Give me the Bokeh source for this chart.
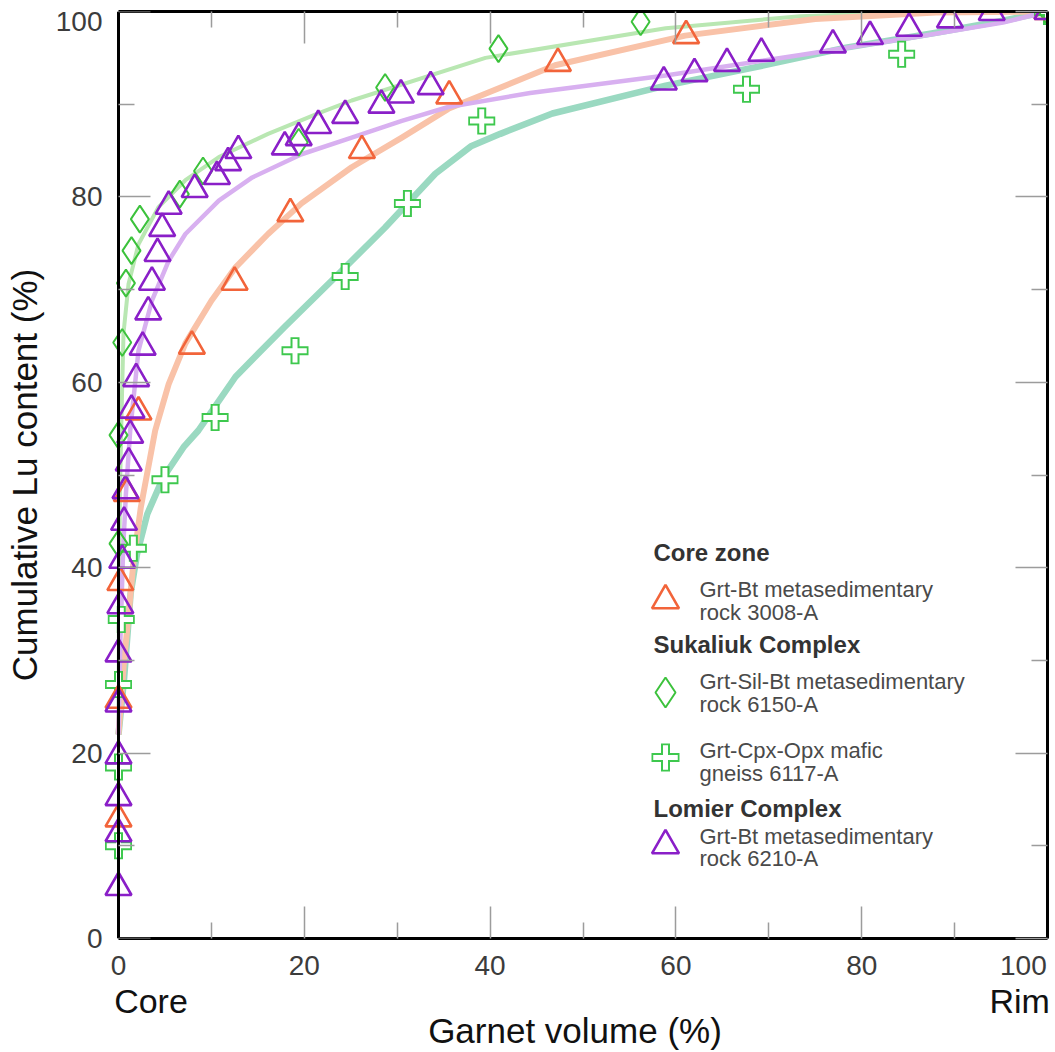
from bokeh.plotting import figure
from bokeh.models import (Range1d, LinearAxis, FixedTicker, CustomJSTickFormatter, Label)
from bokeh.embed import file_html
from bokeh.resources import INLINE

# ---------------- data ----------------
# Core zone: Grt-Bt metasedimentary rock 3008-A
a3008_x = [0, 0, 0.2, 0.9, 2.15, 7.9, 12.5, 18.5, 26.2, 35.6, 47.3, 61.1, 100]
a3008_y = [12.9, 25.7, 38.4, 48.0, 56.8, 63.9, 70.8, 78.2, 85.0, 90.9, 94.4, 97.4, 100]
a3008_fit_x = [0, 0.6, 1.1, 1.6, 2.4, 3.95, 5.4, 7.2, 10.0, 12.6, 16.1, 19.7, 25.1, 30.5,
               35.5, 47.0, 61.0, 75.0, 88.0, 100]
a3008_fit_y = [22, 30, 35, 40.5, 46.5, 54.8, 59.8, 64.2, 68.8, 72.4, 76.0, 79.3, 83.2, 86.4,
               89.5, 94.2, 97.4, 99.2, 99.9, 100]

# Sukaliuk Complex: Grt-Sil-Bt metasedimentary rock 6150-A
a6150_x = [0, 0, 0.4, 0.8, 1.4, 2.3, 6.6, 9.1, 19.4, 28.7, 40.9, 56.2, 100]
a6150_y = [42.6, 54.3, 64.3, 70.7, 74.2, 77.6, 80.3, 82.8, 85.9, 91.8, 96.0, 98.9, 100]
a6150_fit_x = [0, 0.05, 0.15, 0.36, 0.54, 1.08, 2.15, 4.3, 7.2, 10.8, 16.1, 21.5, 25.1,
               39.5, 58.9, 73.4, 85.0, 100]
a6150_fit_y = [22, 35, 48, 58, 65.3, 70.6, 74.9, 78.9, 81.8, 84.3, 86.8, 89.0, 90.4,
               95.0, 98.2, 99.5, 99.9, 100]

# Sukaliuk Complex: Grt-Cpx-Opx mafic gneiss 6117-A
a6117_x = [0, 0, 0, 0.3, 1.6, 5.0, 10.4, 19.0, 24.4, 31.1, 39.1, 67.6, 84.3, 100]
a6117_y = [10.0, 18.5, 27.4, 34.4, 42.1, 49.5, 56.2, 63.4, 71.4, 79.3, 88.2, 91.6, 95.4, 100]
a6117_fit_x = [0, 0.6, 1.0, 1.3, 2.0, 3.1, 4.8, 7.0, 8.6, 12.6, 17.9, 23.3, 28.7, 34.1,
               38.0, 41.1, 46.7, 58.9, 68.6, 78.3, 88.0, 95.2, 100]
a6117_fit_y = [22, 28, 33.2, 37.2, 41.5, 45.8, 49.7, 53.0, 54.8, 60.6, 66.0, 71.3, 76.7, 82.5,
               85.5, 86.8, 89.0, 92.0, 94.0, 96.1, 97.7, 99.0, 100]

# Lomier Complex: Grt-Bt metasedimentary rock 6210-A
a6210_x = [0, 0, 0, 0, 0, 0, 0.2, 0.4, 0.6, 0.75, 1.1, 1.26, 1.4, 1.9, 2.6, 3.2, 3.6, 4.2,
           4.7, 5.4, 8.2, 10.6, 11.8, 12.9, 17.9, 19.4, 21.5, 24.4, 28.3, 30.4, 33.6, 58.7,
           62.0, 65.5, 69.2, 76.9, 80.9, 85.1, 89.5, 94.0, 100]
a6210_y = [5.5, 11.3, 15.2, 19.7, 25.3, 30.7, 35.9, 40.8, 44.9, 48.3, 51.3, 54.3, 57.0,
           60.4, 63.8, 67.6, 70.8, 73.9, 76.6, 79.0, 80.8, 82.2, 83.7, 85.0, 85.4, 86.4,
           87.7, 88.8, 89.9, 91.0, 91.9, 92.4, 93.3, 94.4, 95.5, 96.4, 97.3, 98.2, 99.1,
           99.9, 100]
a6210_fit_x = [0, 0.2, 0.5, 0.8, 1.26, 2.15, 3.6, 5.4, 7.2, 10.8, 14.4, 19.7, 25.1, 30.5,
               35.5, 44.3, 58.9, 73.4, 85.5, 95.2, 100]
a6210_fit_y = [22, 32, 42, 48, 54.8, 63.4, 68.8, 73.1, 76.0, 79.6, 82.1, 84.6, 86.4, 88.2,
               89.7, 91.2, 93.1, 95.3, 97.2, 98.8, 100]

major_ticks = [0, 20, 40, 60, 80, 100]
minor_ticks = [10, 30, 50, 70, 90]
tick_labels = ["0", "20", "40", "60", "80", "100"]
end_labels = ["Core", "Rim"]

# ---------------- styling ----------------
FONT = "Liberation Sans"
C_ORANGE, C_ORANGE_FIT = "#f2643a", "#f9c2a8"
C_GREEN, C_GREEN_FIT = "#3cc23c", "#b9e7b2"
C_CROSS, C_TEAL_FIT = "#3ec84e", "#9ad9c1"
C_PURPLE, C_PURPLE_FIT = "#8a1fc8", "#d8b0f0"
TICK_C = "#9c9c9c"
LBL_C = "#3c3c3c"

W, H = 1055, 1052
L, R, T, B = 102, 8, 11, 114          # frame borders (px)
PX_PER_X = 929 / 100.0
XMIN = -(118 - L) / PX_PER_X          # leave room so markers on x=0 are not cut

p = figure(width=W, height=H, output_backend="svg", toolbar_location=None,
           x_range=Range1d(XMIN, 100), y_range=Range1d(0, 100),
           min_border_left=L, min_border_right=R, min_border_top=T, min_border_bottom=B,
           x_axis_location=None, y_axis_location=None, background_fill_color="white")
p.xgrid.visible = False
p.ygrid.visible = False
p.outline_line_color = None

def tick_axis(fixed=None):
    ax = LinearAxis(ticker=FixedTicker(ticks=major_ticks, minor_ticks=minor_ticks),
                    formatter=CustomJSTickFormatter(code="return ''"), bounds=(0, 100))
    ax.axis_line_color = "black"
    ax.axis_line_width = 3
    ax.major_tick_line_color = TICK_C
    ax.major_tick_line_width = 1.5
    ax.major_tick_in = 32
    ax.major_tick_out = 0
    ax.minor_tick_line_color = TICK_C
    ax.minor_tick_line_width = 1.5
    ax.minor_tick_in = 16
    ax.minor_tick_out = 0
    ax.major_label_text_font_size = "1px"
    ax.major_label_standoff = 0
    if fixed is not None:
        ax.fixed_location = fixed
    return ax

def label_axis(ticks, labels, size, standoff, color):
    mapping = "{" + ",".join('"%d":"%s"' % (i, s) for i, s in enumerate(labels)) + "}"
    ax = LinearAxis(ticker=FixedTicker(ticks=ticks, minor_ticks=[]),
                    formatter=CustomJSTickFormatter(code="return (%s)[index];" % mapping))
    ax.axis_line_color = None
    ax.major_tick_line_color = None
    ax.minor_tick_line_color = None
    ax.major_tick_in = 0
    ax.major_tick_out = 0
    ax.major_label_text_font = FONT
    ax.major_label_text_font_size = size
    ax.major_label_text_color = color
    ax.major_label_standoff = standoff
    return ax

# frame axes with inward ticks
p.add_layout(tick_axis(), "below")
p.add_layout(tick_axis(), "above")
p.add_layout(tick_axis(), "right")
p.add_layout(tick_axis(fixed=0), "left")

# tick label rows (the 100 labels are nudged inside the canvas as in the reference)
x_label_pos = [0, 20, 40, 60, 80, 97.4]
y_label_pos = [0, 20, 40, 60, 80, 98.9]
xl = label_axis(x_label_pos, tick_labels, "28px", 17, LBL_C)
p.add_layout(xl, "below")
ends = label_axis([3.5, 97.0], end_labels, "34px", 4, "#111111")
ends.axis_label = "Garnet volume (%)"
ends.axis_label_text_font = FONT
ends.axis_label_text_font_size = "35px"
ends.axis_label_text_font_style = "normal"
ends.axis_label_text_color = "#111111"
ends.axis_label_standoff = -12
p.add_layout(ends, "below")

yl = label_axis(y_label_pos, tick_labels, "28px", 0, LBL_C)
yl.axis_label = "Cumulative Lu content (%)"
yl.axis_label_text_font = FONT
yl.axis_label_text_font_size = "35px"
yl.axis_label_text_font_style = "normal"
yl.axis_label_text_color = "#111111"
yl.axis_label_standoff = 9
p.add_layout(yl, "left")

# ---------------- fitted curves ----------------
p.line(a6150_fit_x, a6150_fit_y, line_color=C_GREEN_FIT, line_width=4, line_join="round")
p.line(a6117_fit_x, a6117_fit_y, line_color=C_TEAL_FIT, line_width=6.5, line_join="round")
p.line(a3008_fit_x, a3008_fit_y, line_color=C_ORANGE_FIT, line_width=6, line_join="round")
p.line(a6210_fit_x, a6210_fit_y, line_color=C_PURPLE_FIT, line_width=4.5, line_join="round")

# ---------------- markers ----------------
def plus_outline(xs, ys, s=27):
    p.scatter(xs, ys, marker="cross", size=s, line_color=C_CROSS, line_width=9)
    p.scatter(xs, ys, marker="cross", size=s - 3.5, line_color="white", line_width=5)

plus_outline(a6117_x, a6117_y)
p.scatter(a6150_x, a6150_y, marker="diamond", size=27, fill_color=None,
          line_color=C_GREEN, line_width=2)
p.scatter(a3008_x, a3008_y, marker="triangle", size=26, fill_color=None,
          line_color=C_ORANGE, line_width=2.6)
p.scatter(a6210_x, a6210_y, marker="triangle", size=26, fill_color=None,
          line_color=C_PURPLE, line_width=2.6)

# ---------------- legend ----------------
def lab(text, sx, sy, size, color, bold=False):
    p.add_layout(Label(x=sx - L, y=(H - B) - sy, x_units="screen", y_units="screen",
                       text=text, text_font=FONT, text_font_size=size,
                       text_color=color, text_align="left", text_baseline="middle",
                       text_font_style="bold" if bold else "normal"))

def px2x(px):
    return (px - 118) / PX_PER_X
def py2y(py):
    return (H - B - py) / (H - B - T) * 100

HX, TX, MX = 653, 699, 665
HEAD_C, ITEM_C = "#333333", "#4a4a4a"
lab("Core zone", HX, 552, "24px", HEAD_C, bold=True)
lab("Grt-Bt metasedimentary", TX, 589, "22px", ITEM_C)
lab("rock 3008-A", TX, 612, "22px", ITEM_C)
lab("Sukaliuk Complex", HX, 644, "24px", HEAD_C, bold=True)
lab("Grt-Sil-Bt metasedimentary", TX, 681, "22px", ITEM_C)
lab("rock 6150-A", TX, 704, "22px", ITEM_C)
lab("Grt-Cpx-Opx mafic", TX, 750, "22px", ITEM_C)
lab("gneiss 6117-A", TX, 773, "22px", ITEM_C)
lab("Lomier Complex", HX, 808, "24px", HEAD_C, bold=True)
lab("Grt-Bt metasedimentary", TX, 836, "22px", ITEM_C)
lab("rock 6210-A", TX, 858, "22px", ITEM_C)

p.scatter([px2x(MX)], [py2y(600)], marker="triangle", size=27, fill_color=None,
          line_color=C_ORANGE, line_width=2.6)
p.scatter([px2x(MX)], [py2y(692)], marker="diamond", size=30, fill_color=None,
          line_color=C_GREEN, line_width=2)
plus_outline([px2x(MX)], [py2y(757)], s=28)
p.scatter([px2x(MX)], [py2y(845)], marker="triangle", size=27, fill_color=None,
          line_color=C_PURPLE, line_width=2.6)

open("out.html", "w").write(file_html(p, INLINE))
